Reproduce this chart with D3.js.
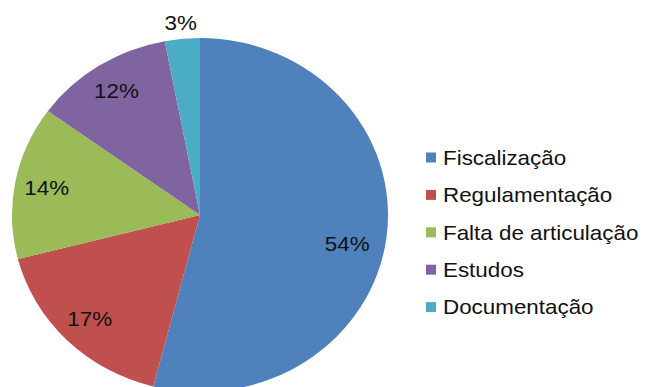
<!DOCTYPE html>
<html>
<head>
<meta charset="utf-8">
<script src="https://cdn.jsdelivr.net/npm/d3@7"></script>
<style>
  html, body { margin: 0; padding: 0; background: #fff; }
  svg { display: block; }
  text { font-family: "Liberation Sans", Arial, sans-serif; fill: #111; }
</style>
</head>
<body>
<svg id="chart" width="645" height="387"></svg>
<script>
// Share of responses per category (percent)
const categories = ["Fiscalização", "Regulamentação", "Falta de articulação", "Estudos", "Documentação"];
const values = [54, 17, 14, 12, 3];
const colors = ["#4F81BD", "#C0504D", "#9BBB59", "#8064A2", "#4BACC6"];

const svg = d3.select("#chart");
const W = 645, H = 387;

// Pie geometry: slightly flattened ellipse
const cx = 200, cy = 215;
const rx = 188, ry = 177;
const squash = ry / rx;
const fontSize = 20;
const stretch = 1.12;

const pie = d3.pie().sort(null).value(d => d.value).startAngle(0).endAngle(2 * Math.PI);
const data = categories.map((c, i) => ({ name: c, value: values[i], color: colors[i] }));
const arcs = pie(data);

const arc = d3.arc().innerRadius(0).outerRadius(rx);

const pieG = svg.append("g")
  .attr("transform", `translate(${cx},${cy}) scale(1,${squash})`);

pieG.selectAll("path")
  .data(arcs)
  .join("path")
  .attr("d", arc)
  .attr("fill", d => d.data.color);

// Percentage labels: inside for normal slices, just outside for thin ones
const total = d3.sum(values);
const labelG = svg.append("g").attr("transform", `translate(${cx},${cy})`);
arcs.forEach(d => {
  const share = d.data.value / total;
  const r = share < 0.05 ? rx * 1.09 : (share > 0.5 ? rx * 0.80 : rx * 0.83);
  let mid = (d.startAngle + d.endAngle) / 2;
  if (share > 0.5) mid += 4.6 * Math.PI / 180;
  const x = r * Math.sin(mid);
  const y = -r * Math.cos(mid) * squash;
  labelG.append("text")
    .attr("transform", `translate(${x},${y}) scale(${stretch},1)`)
    .attr("text-anchor", "middle")
    .attr("dy", "0.36em")
    .style("font-size", fontSize + "px")
    .text(d3.format(".0f")(d.data.value) + "%");
});

// Legend
const legendX = 426, legendY0 = 157.5, legendStep = 37.4;
const legend = svg.append("g");
const rows = legend.selectAll("g.row")
  .data(data)
  .join("g")
  .attr("class", "row")
  .attr("transform", (d, i) => `translate(${legendX},${legendY0 + i * legendStep})`);

rows.append("rect")
  .attr("x", 0).attr("y", -5)
  .attr("width", 10).attr("height", 10)
  .attr("fill", d => d.color);

rows.append("text")
  .attr("transform", `translate(17,0) scale(${stretch},1)`)
  .attr("dy", "0.36em")
  .style("font-size", fontSize + "px")
  .text(d => d.name);
</script>
</body>
</html>
